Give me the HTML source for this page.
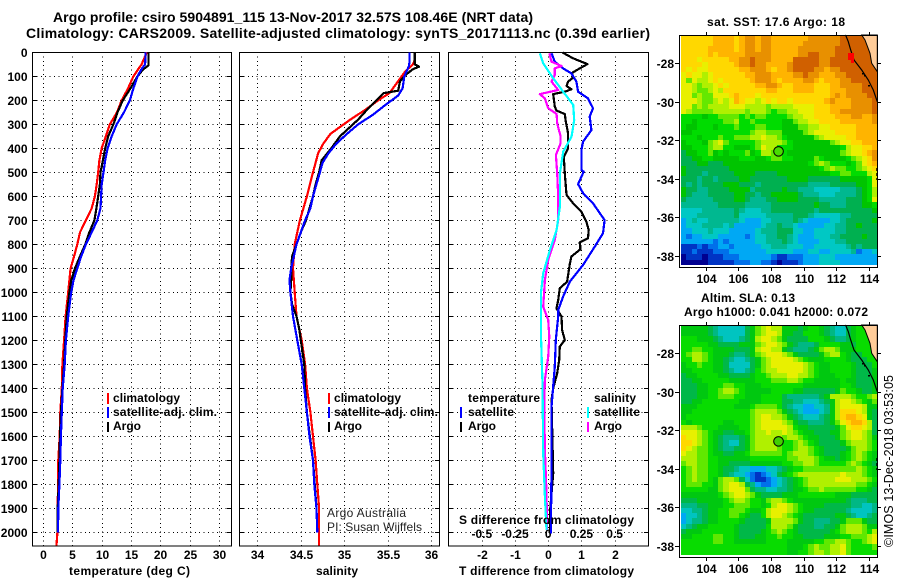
<!DOCTYPE html>
<html lang="en">
<head>
<meta charset="utf-8">
<title>Argo profile csiro 5904891_115</title>
<style>
html,body{margin:0;padding:0;background:#fff;width:900px;height:580px;overflow:hidden}
svg{display:block}
text{font-family:"Liberation Sans",sans-serif;font-size:12px;font-weight:bold;fill:#000}
.ttl{font-size:14px}
.thin{font-weight:normal;fill:#222}
</style>
</head>
<body>
<svg id="fig" xmlns="http://www.w3.org/2000/svg" width="900" height="580" viewBox="0 0 900 580">
<rect x="0" y="0" width="900" height="580" fill="#fff"/>
<text class="ttl" x="53" y="22" textLength="480" lengthAdjust="spacing">Argo profile: csiro 5904891_115 13-Nov-2017 32.57S 108.46E (NRT data)</text>
<text class="ttl" x="26" y="38" textLength="624" lengthAdjust="spacing">Climatology: CARS2009. Satellite-adjusted climatology: synTS_20171113.nc (0.39d earlier)</text>
<g id="charts"></g>
<g id="maps"></g>
<g>
<rect x="848" y="53" width="6" height="7" fill="#f00"/>
<rect x="851" y="60" width="3" height="3" fill="#f00"/>
</g>

<text x="69" y="575" textLength="121" lengthAdjust="spacing">temperature (deg C)</text>
<text x="316" y="575" textLength="42" lengthAdjust="spacing">salinity</text>
<text x="459" y="575" textLength="175" lengthAdjust="spacing">T difference from climatology</text>
<text x="459" y="524" textLength="175" lengthAdjust="spacing">S difference from climatology</text>

<g>
<rect x="107" y="393" width="2" height="11" fill="#f00"/>
<text x="113" y="402" textLength="67" lengthAdjust="spacing">climatology</text>
<rect x="107" y="407" width="2" height="11" fill="#00f"/>
<text x="113" y="416" textLength="104" lengthAdjust="spacing">satellite-adj. clim.</text>
<rect x="107" y="422" width="2" height="10" fill="#000"/>
<text x="113" y="430">Argo</text>
</g>
<g>
<rect x="328" y="393" width="2" height="11" fill="#f00"/>
<text x="334" y="402" textLength="67" lengthAdjust="spacing">climatology</text>
<rect x="328" y="407" width="2" height="11" fill="#00f"/>
<text x="334" y="416" textLength="104" lengthAdjust="spacing">satellite-adj. clim.</text>
<rect x="328" y="422" width="2" height="10" fill="#000"/>
<text x="334" y="430">Argo</text>
</g>
<g>
<text class="thin" x="327" y="517" textLength="79" lengthAdjust="spacing">Argo Australia</text>
<text class="thin" x="327" y="531" textLength="95" lengthAdjust="spacing">PI: Susan Wijffels</text>
</g>
<g>
<text x="468" y="402" textLength="72" lengthAdjust="spacing">temperature</text>
<rect x="460" y="407" width="2" height="11" fill="#00f"/>
<text x="468" y="416" textLength="46" lengthAdjust="spacing">satellite</text>
<rect x="460" y="422" width="2" height="10" fill="#000"/>
<text x="468" y="430">Argo</text>
<text x="594" y="402" textLength="42" lengthAdjust="spacing">salinity</text>
<rect x="587" y="407" width="2" height="11" fill="#0ff"/>
<text x="594" y="416" textLength="46" lengthAdjust="spacing">satellite</text>
<rect x="587" y="422" width="2" height="10" fill="#f0f"/>
<text x="594" y="430">Argo</text>
</g>

<text x="707" y="26" textLength="138" lengthAdjust="spacing">sat. SST: 17.6 Argo: 18</text>
<text x="701" y="302" textLength="94" lengthAdjust="spacing">Altim. SLA: 0.13</text>
<text x="684" y="316" textLength="184" lengthAdjust="spacing">Argo h1000: 0.041 h2000: 0.072</text>
<text class="thin" transform="translate(893,547) rotate(-90)" textLength="172" lengthAdjust="spacing" x="0" y="0" style="font-size:12.5px;fill:#000">©IMOS 13-Dec-2018 03:53:05</text>
</svg>
<script>
/* ---- profile data (depth in dbar, temperature in deg C, salinity in psu) ---- */
const tempClimDepth=[0,50,100,150,200,250,300,350,400,450,500,550,600,650,700,750,800,850,900,950,1000,1100,1200,1300,1400,1500,1600,1700,1800,1900,2000,2055];
const tempClimValues=[17.7,16.8,15.4,14.5,13.4,12.6,11.4,10.7,10,9.6,9.4,9.15,8.85,8.3,7.3,6.3,5.85,5.3,4.7,4.5,4.3,3.85,3.6,3.3,3.2,2.95,2.85,2.6,2.6,2.45,2.45,2.3];
const tempArgoDepth=[0,55,70,100,150,200,250,300,350,400,450,500,550,600,650,700,750,800,850,900,950,1000,1100,1200,1300,1400,1500,1600,1700,1800,1900,2000];
const tempArgoValues=[17.95,17.95,17.1,16.1,14.9,13.6,12.7,12.0,11.1,10.6,10.2,9.8,9.7,9.4,9.1,8.75,7.9,7.2,6.3,5.45,4.8,4.5,4.05,3.8,3.6,3.3,3.05,2.9,2.8,2.67,2.5,2.5];
const tempSatDepth=[0,50,70,100,150,200,250,300,350,400,450,500,550,600,650,700,750,800,850,900,950,1000,1100,1200,1300,1400,1500,1600,1700,1800,1900,2000];
const tempSatValues=[17.5,17.4,16.8,16.1,15.4,14.8,13.8,12.55,11.7,11,10.6,10.3,10,9.9,9.8,9.25,8.3,7.3,6.5,5.85,5.2,4.8,4.3,3.9,3.7,3.35,3.2,3.05,2.95,2.8,2.6,2.55];

const salClimDepth=[0,30,50,80,120,170,200,240,280,340,380,420,500,600,700,800,900,1000,1100,1200,1300,1400,1500,1600,1700,1800,1900,2000,2055];
const salClimValues=[35.81,35.81,35.79,35.7,35.62,35.52,35.39,35.24,35.07,34.84,34.76,34.7,34.64,34.57,34.49,34.43,34.41,34.43,34.45,34.51,34.55,34.57,34.61,34.64,34.67,34.69,34.71,34.71,34.71];
const salArgoDepth=[0,50,60,70,90,120,160,170,200,240,280,300,350,400,450,500,550,600,650,700,750,800,850,900,950,1000,1050,1100,1150,1200,1300,1400,1500,1600,1700,1800,1900,2000];
const salArgoValues=[35.81,35.81,35.86,35.79,35.72,35.64,35.62,35.45,35.37,35.26,35.16,35.1,34.95,34.85,34.74,34.71,34.67,34.64,34.6,34.56,34.5,34.45,34.4,34.39,34.39,34.38,34.4,34.45,34.48,34.5,34.54,34.55,34.57,34.605,34.64,34.66,34.68,34.69];
const salSatDepth=[0,40,60,100,150,180,220,260,300,340,380,420,460,500,600,650,700,800,900,950,1000,1100,1200,1300,1400,1500,1600,1700,1800,1900,2000];
const salSatValues=[35.75,35.75,35.74,35.69,35.67,35.62,35.47,35.33,35.16,35.03,34.91,34.82,34.75,34.72,34.64,34.61,34.55,34.45,34.39,34.37,34.38,34.41,34.46,34.51,34.54,34.57,34.6,34.64,34.655,34.68,34.69];

const dTempArgoDepth=[1,25,49,67,85,108,122,140,154,164,174,226,243,257,289,338,400,435,504,594,629,664,706,740,775,792,821,851,882,956,983,1032,1067,1101,1157,1199,1226,1282,1337,1400,1449,1754,1921,2004];
const dTempArgoValues=[0.43,0.75,1.18,0.95,0.73,0.73,0.6,0.55,0.7,0.5,0.15,0.2,0.25,0.5,0.53,0.6,0.6,0.47,0.5,0.55,0.75,1,1.15,1.22,1.2,0.95,0.97,0.7,0.65,0.57,0.35,0.3,0.25,0.4,0.42,0.5,0.35,0.33,0.27,0.15,0.1,0.15,0.05,0.05];
const dTempSatDepth=[4,39,67,88,122,164,192,233,268,324,372,407,490,497,549,587,629,699,754,810,886,956,1018,1074,1101,1199,1310,1477,1726,2004];
const dTempSatValues=[0.1,0.2,0.45,0.7,0.85,0.9,1.2,1.35,1.25,1.3,1.05,1,1,1.07,0.9,1.05,1.35,1.7,1.65,1.4,1.05,0.65,0.45,0.3,0.3,0.23,0.2,0.1,0.1,0.08];
const dSalArgoDepth=[4,39,57,67,94,122,157,174,192,233,257,296,351,379,428,504,601,699,782,865,949,1060,1115,1185,1268,1365,1463,1657,1838,1990];
const dSalArgoValues=[0.008,0.025,0.1,0.05,0.05,0.025,0.075,-0.063,-0.025,0,0.063,0.068,0.093,0.093,0.058,0.068,0.075,0.075,0.05,0,-0.025,-0.038,0,0.008,0,-0.025,-0.03,-0.025,-0.013,-0.008];
const dSalSatDepth=[4,46,108,164,219,282,351,414,504,643,740,824,921,1004,1074,1171,1379,1671,1851,1990];
const dSalSatValues=[-0.063,-0.038,0.038,0.113,0.188,0.196,0.176,0.113,0.088,0.088,0.063,0.013,-0.038,-0.055,-0.055,-0.055,-0.043,-0.038,-0.025,-0.013];

/* ---- tick labels ---- */
const depthTicks=[0,100,200,300,400,500,600,700,800,900,1000,1100,1200,1300,1400,1500,1600,1700,1800,1900,2000];
const tempTicks=[0,5,10,15,20,25,30];
const salTicks=[34,34.5,35,35.5,36];
const dTempTicks=[-2,-1,0,1,2];
const dSalTicks=[-0.5,-0.25,0,0.25,0.5];
const dSalTickLabels=['-0.5','-0.25','0','0.25','0.5'];
const lonTicks=[104,106,108,110,112,114];
const latTicks=[-28,-30,-32,-34,-36,-38];

/* ---- map grids: each letter is a colour class from the palettes ---- */
const sstColours={a:'#000090',b:'#0034c4',c:'#0070ea',d:'#00a8f4',e:'#00c8c4',f:'#00b890',g:'#00b050',h:'#00c400',i:'#00dc00',j:'#64e800',k:'#b0f000',l:'#e8f000',m:'#ffd800',n:'#ffb400',o:'#e89000',p:'#d06000'};
const slaColours={a:'#000090',b:'#0034c4',c:'#0070ea',d:'#00a8f4',e:'#00c4c0',f:'#00b884',g:'#00b848',h:'#00c810',i:'#08dc00',j:'#60e800',k:'#b0f000',l:'#e8f000',m:'#ffd800',n:'#ffb400',o:'#e89000',p:'#d06000'};
const sstRows=[
"mmmmmmnnnnmnoonoonnnnnnnoooooopppppppp",
"mmmmmmnnnnmnoonoonnnnnnoooooooppppppp",
"mmmmmnnnnnmnoonoonnnnnooooooopppppppp",
"mmmmmnmnnnnnooooonnnnnooppoooppppppp",
"mmmlmmmmmnnoopooonnnnpppppoopppppppp",
"mmmmlmmmmmnoopoonnnnopppppoopppppppp",
"mlmllmmmmmmnnooonmnnoppppoonoopppppppp",
"lmllklmmmmmmnnooonnnnoopoonnnoopppppp",
"ljlkklmlmmmmmnooonmnnnnoonmnnnoo"+"ppppp",
"llkjkklmlmmmmmnnoonmmnnnnmmmnnooooppp",
"llkjjklkmmmmmmmmnnmmmnnnnmmmnnnoooppp",
"lljkjjlllmnmmmlmmmmmmmmmmmmmnonoooopp",
"lllkjjklklnmllklmlmmlmmmmmmnonnnoooop",
"lljkjkkkklllkkkkjkkkkllllmmmnnnnoooop",
"lkjjjjkkkkkkjkkkjijjkklllmmmnnoooooop",
"iiiihiijjjjijijjiiiijkkllmmmmnnnoonno",
"iihiiiiijjkiijiiiiihhjkkllmmmmnnnnnno",
"ihhiiihiiijiiijjiiihhhjjkkllmmmmmnnnn",
"hhiiiiiiiiiiijkkjjjhhhhjkllllmmmmnnnn",
"iiihiiijiijjjkklkkjihhhhhjkllllmmnnnn",
"hiiihjkljiiiiijkkkkjihhhhhhhjkllmmnnn",
"hhiiijkkiihhhijlkkiiihhhhhhhhhikllmmn",
"ghhiijhihiiijhikkjjihhhhhhhhhhjkllmno",
"gghhiihhhhhiiihhijjiihhhhjihhhhijklmo",
"ggghhggghhhhhhhhhhhhhhhhijkjiiihijlmn",
"hgggggggghhhhhhhhhhhhhhhhhijkjjiijklm",
"hgggfggggghhhhgggghhhhhhhhhhiijjiiikl",
"gggfggfgggghhggggggghhhhgggggghhhhhil",
"gfgfgggghhhgggfgggggggggffffggggghhil",
"hggffgggghhhhfggggghggfffeeeeefffghik",
"hgfffggggghhggfgghhhhhgfffeeeffffghik",
"gfffffgggghhgfffgghhhhggggfffffggghil",
"fffffffgggggfffffgggggggghggfffggghhi",
"eeeeffffffgfeeeffggggggggfggggggggggh",
"eeefffffffgeeeeefffffgggfeeeeeffggggg",
"defeeffffffedddeeffffgfeddddeefgggggh",
"deeeffffefdddddeffgffedddddeeffgghggg",
"ddeeefeeedddddefffgggeeddeeeeffgggggg",
"dcddeeedddddcdeeffggfedddeeeffgggghgg",
"ddddddcdcdddddeefffgfeddddeeeffgggggg",
"bbbcbccddcdddddeefffeeeddeeeeeefgfggg",
"bbcbbbcccdddddddeeeeedddeeddeeeefcdde",
"abbbabbbcccddddddcbbcccdddeeedddddddd",
"aaaaabbbbbcccddccbabbbcdddeeeeddddddd"
];
const slaRows=[
"hhhhhgfeeeeeghjklkkhhhghiihgfeeghiiii",
"hhhhhgfeeeeeghjkllkhhggiiihgfeeghiiii",
"iiihhhgfeeefghkllkjhggggiiihgffghiiii",
"iiiiihhgggghhhjkllkjhgfffgiiiihhgiiii",
"iijjiihhhhggghkllkkhgfffghjkkjhhhiiii",
"ijkkjihhhgffghjklllkjhgggghjkkihggiii",
"iikkjihhgfeefghjkllllkjihhhiiiihgggii",
"hiijiihhgeeeeghjkllllllkjihhiiiihgggi",
"hhiiiihhgfeefgijkklllllkjihhiiiihgggh",
"ghhiiiihhgggghiijkkkllkkjihhhiiihgggh",
"gghhiiiiihhhhhiiijjjkkjiihhhhhihhgggh",
"ggghhiiijjiihhhiiiiiiiihhhhhhhiihgggh",
"ggghhiijkkjihhhhhiiiihhgggggghjiihggh",
"ggghhiijjjiihhhiiiigffffffghkkkkjiijk",
"gghhiiiiiiihhhhiiiiggffeeefghkllkjihj",
"hhhiiiiiiihhhijjjjigfeeddeefhkllllkhh",
"hhiiiiiiiiiiijkkkkjhgfedddefhkmmmlkhg",
"hiiiiiiiiiiiijkllkkjhgfeeefghkmnnmlhg",
"ihiiiiiihhiiijkllllkjhggfffghjlmnnmkg",
"kkkjiiihhhhiijklllllkihhggggghjlmmlkg",
"lllkjihhgghhijkklkklkjihhggghhjkllkjg",
"mllkjihgfffghjkkkkkjkkjihhggghjkllkjh",
"mmlkjihgfeeghjkkkkkiijkjihgggghjkkkji",
"mlkjjihgffgghjkkkkjiijkkjihgggghjkkji",
"lkkjjihhgghhijjjjjjijkkkjihggghijkjih",
"kkkjjiihhhhhhiiiiiiijjkkkjihhghijkjih",
"jkkjjiihhgggghhhhhhiijjkkjiiiiijkjihg",
"ijkjjiihggfeedddeefghiijjjjjjjjjjkjih",
"ijkjjiihgfeedcbcdeghijkkkkkkkklkkkjih",
"ijkjjihjkkjgecbbcdefghijkkkkklllkkkji",
"ijjjiihjkllkgfdccdefghijkkkkkkkkkjjih",
"iiiiihhjkllljgffeeffghhijjkjjjjjjiihg",
"hhhhhhhijkllkjhgggghhhiiiiiiihhhggggg",
"ggghhhhhijkkjiihjkkjihhhhhhhhhhgfffgg",
"fffgghhhiijjjiihikllkjihhhhgggggffeef",
"eeffghhiijjjihhiklllkjihhggggggfeeeef",
"deefghhiijjihggikllkjihgggggghhgfeefg",
"deffghhiiiihgggghkkkkjhggfffgghjjjhgg",
"efghhiiiiihgggggikkkjhgggffgghjkkkjhh",
"ghhhiiiiiihgggghijkjihgggggghijkkkjik",
"hhiiiijjiihggghhiijiihhgggghhhiijjjkl",
"iiiiiijjiihhhhhhiiiihhhhhiijjkkjiijkl",
"iiiiiiiiiiiiiiiiiiiihhhijkjjkkljiiiij",
"iiiiiiiiiiiiiiiiiiiihhiijkkjkkljiiiii"
];
/* float position on the maps */
const argoLon=108.46;
const argoLat=-32.57;
const argoSstColour='#48dc00';
const argoSlaColour='#40d000';

const NS='http://www.w3.org/2000/svg';
function mk(tag,attrs,parent){
  const el=document.createElementNS(NS,tag);
  for(const k in attrs) el.setAttribute(k,attrs[k]);
  parent.appendChild(el);
  return el;
}
const charts=document.getElementById('charts');
const maps=document.getElementById('maps');
const yD=d=>52.3+0.24*d;
const PANEL_TOP=52, PANEL_BOTTOM=545.5;
const xTemp=v=>43+5.87*v;
const xSal=v=>257.3+87*(v-34);
const xDT=v=>548.2+33.2*v;
const xDS=v=>548.2+132.8*v;

function drawPanel(name,left,right,xFn,ticks,labels,showDepthLabels){
  const g=mk('g',{},charts);
  
  
  depthTicks.forEach(function(d){
    const y=Math.round(yD(d))+0.5;
    const gl=mk('line',{x1:left,x2:right,y1:y,y2:y,stroke:'#000','stroke-width':1,'stroke-dasharray':'1 3.4','shape-rendering':'crispEdges'},g);
    
    
    const tk=mk('line',{x1:left,x2:left+5,y1:y,y2:y,stroke:'#000','stroke-width':1,'shape-rendering':'crispEdges'},g);
    
    
    const tk2=mk('line',{x1:right-5,x2:right,y1:y,y2:y,stroke:'#000','stroke-width':1,'shape-rendering':'crispEdges'},g);
    
    
    if(showDepthLabels){
      const t=mk('text',{x:27.5,y:y+4.5,'text-anchor':'end'},g);
      
      
      t.textContent=String(d);
    }
  });
  ticks.forEach(function(v,i){
    const x=Math.round(xFn(v))+0.5;
    const gl=mk('line',{x1:x,x2:x,y1:PANEL_TOP,y2:PANEL_BOTTOM,stroke:'#000','stroke-width':1,'stroke-dasharray':'1 3.4','shape-rendering':'crispEdges'},g);
    
    
    const t=mk('text',{x:x,y:559,'text-anchor':'middle'},g);
    
    
    t.textContent=labels[i];
  });
  const box=mk('rect',{x:left+0.5,y:PANEL_TOP+0.5,width:right-left-1,height:PANEL_BOTTOM-PANEL_TOP,fill:'none',stroke:'#000','stroke-width':1,'shape-rendering':'crispEdges'},g);
  
  
  return g;
}
function drawSeries(g,name,colour,depths,vals,xFn,width){
  const pts=depths.map(function(d,i){return xFn(vals[i]).toFixed(1)+','+yD(d).toFixed(1);}).join(' ');
  const line=mk('polyline',{points:pts,fill:'none',stroke:colour,'stroke-width':width,'stroke-linejoin':'round','shape-rendering':'crispEdges'},g);
  
  
}
const p1=drawPanel('temperature',32,232,xTemp,tempTicks,tempTicks.map(String),true);
drawSeries(p1,'temperature-climatology-line','#f00',tempClimDepth,tempClimValues,xTemp,2.2);
drawSeries(p1,'temperature-argo-line','#000',tempArgoDepth,tempArgoValues,xTemp,2.2);
drawSeries(p1,'temperature-satellite-line','#00f',tempSatDepth,tempSatValues,xTemp,2.2);

const p2=drawPanel('salinity',239,440,xSal,salTicks,salTicks.map(String),false);
drawSeries(p2,'salinity-climatology-line','#f00',salClimDepth,salClimValues,xSal,2.2);
drawSeries(p2,'salinity-argo-line','#000',salArgoDepth,salArgoValues,xSal,2.2);
drawSeries(p2,'salinity-satellite-line','#00f',salSatDepth,salSatValues,xSal,2.2);

const p3=drawPanel('difference',448,649,xDT,dTempTicks,dTempTicks.map(String),false);
dSalTicks.forEach(function(v,i){
  const t=mk('text',{x:xDS(v),y:538,'text-anchor':'middle'},p3);
  
  
  t.textContent=dSalTickLabels[i];
});
drawSeries(p3,'t-difference-argo-line','#000',dTempArgoDepth,dTempArgoValues,xDT,2.2);
drawSeries(p3,'t-difference-satellite-line','#00f',dTempSatDepth,dTempSatValues,xDT,2.2);
drawSeries(p3,'s-difference-argo-line','#f0f',dSalArgoDepth,dSalArgoValues,xDS,2.2);
drawSeries(p3,'s-difference-satellite-line','#0ff',dSalSatDepth,dSalSatValues,xDS,2.2);

/* ---- maps ---- */
const MAP_L=679, MAP_R=878, CELL_X0=681, CELL_W=5.31, CELL_H=5.2;
const xLon=v=>705.7+16.33*(v-104);
function drawMap(name,top,rows,palette,fallback,argoColour){
  const g=mk('g',{},maps);
  
  
  const bottom=top+232;
  const yLat=v=>top+28.3+19.27*(-28-v);
  rows.forEach(function(row,r){
    for(let c=0;c<37;c++){
      const ch=row[c]||fallback;
      const x0=Math.round(CELL_X0+c*CELL_W), x1=Math.round(CELL_X0+(c+1)*CELL_W);
      const y0=Math.round(top+1+r*CELL_H), y1=Math.round(top+1+(r+1)*CELL_H);
      const cell=mk('rect',{x:x0,y:y0,width:Math.min(x1,877)-x0,height:y1-y0,fill:palette[ch]||palette[fallback]},g);
      
      
    }
  });
  const land=mk('polygon',{points:[861.7,top,877.3,top,877.3,top+36.7,871.7,top+28.3,870,top+18.3,865,top+5].join(' '),fill:'#ffcc99',stroke:'#000','stroke-width':1},g);
  
  
  const coast=mk('polyline',{points:[845,top,846,top+1,848.3,top+6.7,850.7,top+15,854,top+25,861.7,top+35,868.3,top+45,873.3,top+55,877.3,top+66.7].join(' '),fill:'none',stroke:'#000','stroke-width':1.2},g);
  
  
  [[862,top+38],[864,top+40],[868,top+50]].forEach(function(p){
    const isl=mk('rect',{x:p[0],y:p[1],width:2,height:1.5,fill:'#000'},g);
    
    
  });
  const frame=mk('rect',{x:MAP_L+0.5,y:top+0.5,width:MAP_R-MAP_L-1,height:bottom-top,fill:'none',stroke:'#000','stroke-width':1,'shape-rendering':'crispEdges'},g);
  
  
  lonTicks.forEach(function(v){
    const x=Math.round(xLon(v))+0.5;
    const t1=mk('line',{x1:x,x2:x,y1:top-3,y2:top,stroke:'#000','shape-rendering':'crispEdges'},g);
    
    
    const t2=mk('line',{x1:x,x2:x,y1:bottom,y2:bottom+4,stroke:'#000','shape-rendering':'crispEdges'},g);
    
    
    const l=mk('text',{x:x,y:bottom+16,'text-anchor':'middle'},g);
    
    
    l.textContent=String(v);
  });
  latTicks.forEach(function(v){
    const y=Math.round(yLat(v))+0.5;
    const t1=mk('line',{x1:MAP_L-4,x2:MAP_L,y1:y,y2:y,stroke:'#000','shape-rendering':'crispEdges'},g);
    
    
    const t2=mk('line',{x1:MAP_R,x2:MAP_R+3,y1:y,y2:y,stroke:'#000','shape-rendering':'crispEdges'},g);
    
    
    const l=mk('text',{x:MAP_L-5,y:y+4.5,'text-anchor':'end'},g);
    
    
    l.textContent=String(v);
  });
  const mark=mk('line',{x1:877,x2:877,y1:top+133,y2:top+145,stroke:'#000','stroke-width':1.5,'stroke-dasharray':'3 2'},g);
  
  
  const dot=mk('circle',{cx:xLon(argoLon),cy:yLat(argoLat),r:4.8,fill:argoColour,stroke:'#000','stroke-width':1},g);
  
  
}
drawMap('sst',35,sstRows,sstColours,'p',argoSstColour);
drawMap('sla',325,slaRows,slaColours,'i',argoSlaColour);
</script>
</body>
</html>
